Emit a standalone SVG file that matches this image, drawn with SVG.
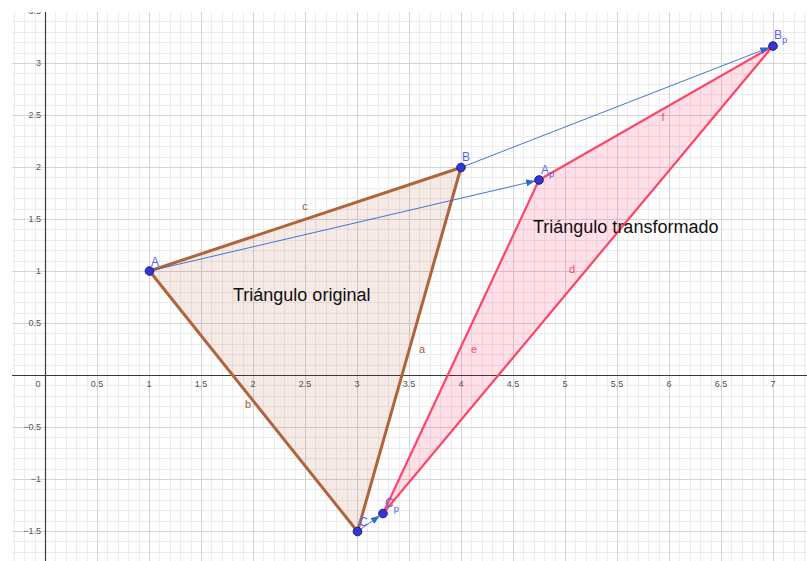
<svg xmlns="http://www.w3.org/2000/svg" width="807" height="561" viewBox="0 0 807 561">
<style>
.tick{font-family:"Liberation Sans",Arial,sans-serif;font-size:9px;fill:#555}
.tx{text-anchor:middle}
.ty{text-anchor:end}
.ptl{font-family:"Liberation Sans",Arial,sans-serif;font-size:12px;fill:#5f5ff5}
.sub{font-size:9.5px}
.elb{font-family:"Liberation Sans",Arial,sans-serif;font-size:11px;fill:#a9582e;text-anchor:middle}
.elr{font-family:"Liberation Sans",Arial,sans-serif;font-size:11px;fill:#ff4466;text-anchor:middle}
.big{font-family:"Liberation Sans",Arial,sans-serif;font-size:18px;fill:#111}
.pt{fill:#3434dc;stroke:#1a1a70;stroke-width:1}
.vec{stroke:#2a6ad0;stroke-width:0.9;fill:none}
</style>
<defs>
<pattern id="gridpat" patternUnits="userSpaceOnUse" x="45" y="63" width="104" height="104">
<g fill="#ececec">
<rect x="10" y="0" width="1" height="104"/><rect x="21" y="0" width="1" height="104"/><rect x="31" y="0" width="1" height="104"/><rect x="42" y="0" width="1" height="104"/>
<rect x="62" y="0" width="1" height="104"/><rect x="73" y="0" width="1" height="104"/><rect x="83" y="0" width="1" height="104"/><rect x="94" y="0" width="1" height="104"/>
<rect y="10" x="0" height="1" width="104"/><rect y="21" x="0" height="1" width="104"/><rect y="31" x="0" height="1" width="104"/><rect y="42" x="0" height="1" width="104"/>
<rect y="62" x="0" height="1" width="104"/><rect y="73" x="0" height="1" width="104"/><rect y="83" x="0" height="1" width="104"/><rect y="94" x="0" height="1" width="104"/>
</g>
<g fill="#d4d4d4">
<rect x="0" y="0" width="1" height="104"/><rect x="52" y="0" width="1" height="104"/>
<rect x="0" y="0" width="104" height="1"/><rect x="0" y="52" width="104" height="1"/>
</g>
</pattern>
<clipPath id="plot"><rect x="12" y="12" width="795" height="549"/></clipPath>
<marker id="arr" markerUnits="userSpaceOnUse" markerWidth="10" markerHeight="8" refX="9" refY="3.5" orient="auto">
<path d="M0,0 L9,3.5 L0,7 z" fill="#2a6ad0"/>
</marker>
</defs>
<rect width="807" height="561" fill="#fff"/>
<g id="grid" clip-path="url(#plot)">
<rect x="12" y="12" width="795" height="549" fill="url(#gridpat)"/>
</g>
<g id="axes">
<line x1="45.5" y1="12" x2="45.5" y2="561" stroke="#3a3a3a" stroke-width="1.2"/>
<line x1="12" y1="375.5" x2="807" y2="375.5" stroke="#3a3a3a" stroke-width="1.2"/>
<g class="tick tx">
<text x="38" y="387">0</text><text x="97" y="387">0.5</text><text x="149" y="387">1</text><text x="201" y="387">1.5</text>
<text x="253" y="387">2</text><text x="305" y="387">2.5</text><text x="357" y="387">3</text><text x="409" y="387">3.5</text>
<text x="461" y="387">4</text><text x="513" y="387">4.5</text><text x="565" y="387">5</text><text x="617" y="387">5.5</text>
<text x="669" y="387">6</text><text x="721" y="387">6.5</text><text x="773" y="387">7</text>
</g>
<g class="tick ty" clip-path="url(#plot)">
<text x="41" y="14">3.5</text><text x="41" y="66">3</text><text x="41" y="118">2.5</text><text x="41" y="170">2</text>
<text x="41" y="222">1.5</text><text x="41" y="274">1</text><text x="41" y="326">0.5</text><text x="41" y="430">−0.5</text>
<text x="41" y="482">−1</text><text x="41" y="534">−1.5</text>
</g>
</g>
<g id="triangle-original">
<polygon points="149.5,271 461,167.5 357.5,531.5" fill="#993300" fill-opacity="0.1" stroke="#b0643a" stroke-width="3" stroke-linejoin="round"/>
<text class="elb" x="305" y="210">c</text>
<text class="elb" x="248" y="408">b</text>
<text class="elb" x="422" y="353">a</text>
<text class="big" x="233" y="301">Triángulo original</text>
</g>
<g id="triangle-transformed">
<polygon points="539,180 773,46 383,513.5" fill="#ff0040" fill-opacity="0.12" stroke="#ff4466" stroke-width="2.2" stroke-linejoin="round"/>
<text class="elr" x="474" y="353">e</text>
<text class="elr" x="663" y="121">f</text>
<text class="elr" x="572" y="273">d</text>
<text class="big" x="533" y="233">Triángulo transformado</text>
</g>
<g id="connectors">
<line class="vec" x1="149.5" y1="271" x2="535.1" y2="180.9" marker-end="url(#arr)"/>
<line class="vec" x1="461" y1="167.5" x2="769.3" y2="47.5" marker-end="url(#arr)"/>
<line class="vec" x1="357.5" y1="531.5" x2="379.7" y2="515.8" marker-end="url(#arr)"/>
</g>
<g id="point-A"><circle class="pt" cx="149.5" cy="271" r="4.3"/><text class="ptl" x="151" y="266">A</text></g>
<g id="point-B"><circle class="pt" cx="461" cy="167.5" r="4.3"/><text class="ptl" x="462" y="161">B</text></g>
<g id="point-C"><circle class="pt" cx="357.5" cy="531.5" r="4.3"/><text class="ptl" x="359" y="526">C</text></g>
<g id="point-Ap"><circle class="pt" cx="539" cy="180" r="4.3"/><text class="ptl" x="541" y="174">A<tspan class="sub" dy="3">p</tspan></text></g>
<g id="point-Bp"><circle class="pt" cx="773" cy="46" r="4.3"/><text class="ptl" x="774" y="39">B<tspan class="sub" dy="4">p</tspan></text></g>
<g id="point-Cp"><circle class="pt" cx="383" cy="513.5" r="4.3"/><text class="ptl" x="385" y="507">C<tspan class="sub" dy="5">p</tspan></text></g>
</svg>
